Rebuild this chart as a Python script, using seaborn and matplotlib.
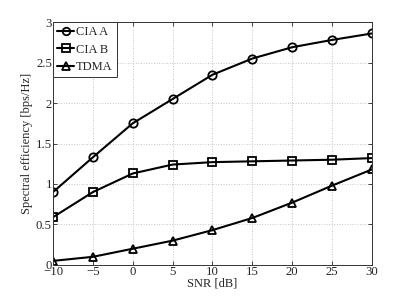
import numpy as np
import pandas as pd
import matplotlib
matplotlib.use("Agg")
import matplotlib.pyplot as plt
import seaborn as sns

# data
snr = [-10, -5, 0, 5, 10, 15, 20, 25, 30]
cia_a = [0.90, 1.33, 1.75, 2.05, 2.35, 2.55, 2.69, 2.78, 2.86]
cia_b = [0.59, 0.90, 1.13, 1.24, 1.27, 1.28, 1.29, 1.30, 1.32]
tdma = [0.05, 0.10, 0.20, 0.30, 0.43, 0.58, 0.77, 0.98, 1.18]
series_names = ["CIA A", "CIA B", "TDMA"]

df = pd.DataFrame({
    "SNR": snr * 3,
    "value": cia_a + cia_b + tdma,
    "scheme": [n for n in series_names for _ in snr],
})

sns.set_style("white")
plt.rcParams["font.family"] = ["Liberation Serif", "DejaVu Serif"]

fig = plt.figure(figsize=(4.11, 2.99), dpi=100)
ax = fig.add_axes([0.129, 0.114, 0.776, 0.812])

sns.lineplot(data=df, x="SNR", y="value", hue="scheme", style="scheme",
             palette=["black"] * 3, markers=["o", "s", "^"], dashes=False,
             markersize=6, markerfacecolor="none", markeredgecolor="black",
             markeredgewidth=1.3, linewidth=1.5, ax=ax)

ax.set_xlim(-10, 30)
ax.set_ylim(0, 3)
ax.set_xticks(range(-10, 31, 5))
ax.set_yticks(np.arange(0, 3.01, 0.5))
ax.set_xticklabels(["\u221210", "\u22125", "0", "5", "10", "15", "20", "25", "30"])
ax.set_yticklabels(["0", "0.5", "1", "1.5", "2", "2.5", "3"])
ax.set_xlabel("SNR [dB]", fontsize=9, labelpad=-0.3)
ax.set_ylabel("Spectral efficiency [bps/Hz]", fontsize=9, labelpad=2)
ax.tick_params(direction="in", length=3, width=0.6, labelsize=9.2,
               top=True, right=True, bottom=True, left=True, pad=0.8)
ax.grid(True, linestyle=":", color="#c4c4c4", linewidth=0.7)
for s in ax.spines.values():
    s.set_linewidth(0.7)
    s.set_color("#333333")

leg = ax.legend(title=None, loc="upper left", fontsize=9, handlelength=1.4,
                handletextpad=0.15, borderpad=0.3, labelspacing=0.45,
                borderaxespad=0.0, fancybox=False, framealpha=1, markerscale=0.9)
leg.get_frame().set_edgecolor("#333333")
leg.get_frame().set_linewidth(0.7)

fig.savefig("out.png", dpi=100)
